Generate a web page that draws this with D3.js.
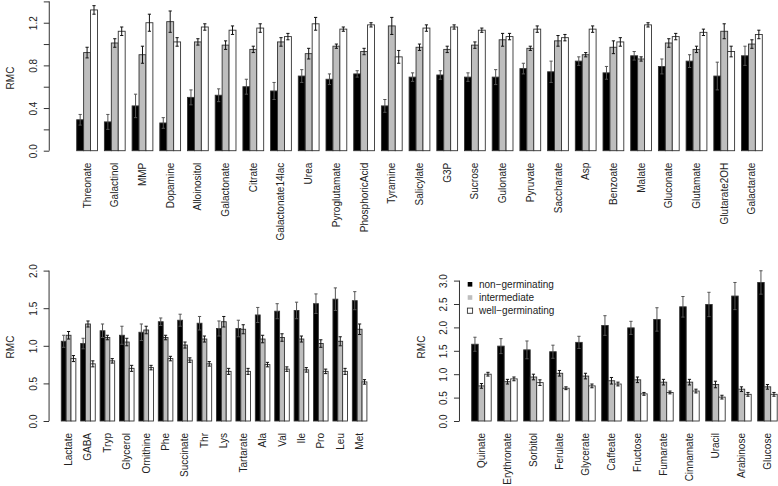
<!DOCTYPE html>
<html>
<head>
<meta charset="utf-8">
<script src="https://cdn.jsdelivr.net/npm/d3@7"></script>
<style>
  html, body { margin: 0; padding: 0; background: #fff; }
  svg { display: block; }
  text { font-family: "Liberation Sans", Arial, Helvetica, sans-serif; font-size: 10px; fill: #222; }
</style>
</head>
<body>
<svg id="chart" width="778" height="486"></svg>
<script>
// ---------- DATA ----------
const seriesNames = ["non\u2212germinating", "intermediate", "well\u2212germinating"];

const topCats = ["Threonate","Galactinol","MMP","Dopamine","Alloinositol","Galactonate","Citrate","Galactonate14lac","Urea","Pyroglutamate","PhosphoricAcid","Tyramine","Salicylate","G3P","Sucrose","Gulonate","Pyruvate","Saccharate","Asp","Benzoate","Malate","Gluconate","Glutamate","Glutarate2OH","Galactarate"];
const topNon      = [0.29,0.27,0.42,0.26,0.50,0.52,0.60,0.56,0.70,0.67,0.72,0.42,0.69,0.71,0.69,0.69,0.77,0.74,0.84,0.73,0.89,0.79,0.84,0.70,0.89];
const topNonErr   = [0.05,0.07,0.11,0.05,0.07,0.06,0.07,0.08,0.06,0.05,0.03,0.06,0.04,0.04,0.04,0.07,0.05,0.10,0.04,0.06,0.04,0.07,0.06,0.13,0.09];
const topInter    = [0.92,1.01,0.90,1.21,1.02,0.99,0.95,1.02,0.91,0.98,0.93,1.17,0.97,0.95,0.99,1.04,0.96,1.03,0.90,0.97,0.86,1.01,0.95,1.12,1.00];
const topInterErr = [0.05,0.04,0.08,0.10,0.03,0.04,0.03,0.04,0.05,0.02,0.03,0.08,0.03,0.03,0.03,0.06,0.02,0.05,0.02,0.06,0.02,0.04,0.03,0.07,0.04];
const topWell     = [1.32,1.12,1.20,1.02,1.16,1.13,1.15,1.07,1.19,1.14,1.18,0.88,1.15,1.16,1.13,1.07,1.14,1.06,1.14,1.02,1.18,1.07,1.11,0.93,1.09];
const topWellErr  = [0.04,0.04,0.08,0.04,0.03,0.04,0.04,0.03,0.06,0.02,0.02,0.06,0.03,0.02,0.02,0.03,0.03,0.03,0.03,0.04,0.02,0.03,0.03,0.05,0.04];
const topTicks = [0.0,0.2,0.4,0.6,0.8,1.0,1.2,1.4];
const topTickLabels = ["0.0","","0.4","","0.8","","1.2",""];

const blCats = ["Lactate","GABA","Tryp","Glycerol","Ornithine","Phe","Succinate","Thr","Lys","Tartarate","Ala","Val","Ile","Pro","Leu","Met"];
const blNon      = [1.06,1.03,1.20,1.14,1.18,1.32,1.34,1.30,1.23,1.23,1.41,1.46,1.47,1.56,1.62,1.60];
const blNonErr   = [0.08,0.07,0.09,0.12,0.11,0.05,0.08,0.09,0.10,0.11,0.10,0.10,0.11,0.13,0.15,0.12];
const blInter    = [1.14,1.29,1.11,1.05,1.21,1.11,1.01,1.09,1.32,1.22,1.09,1.11,1.09,1.03,1.06,1.22];
const blInterErr = [0.05,0.04,0.03,0.05,0.05,0.03,0.04,0.04,0.07,0.06,0.05,0.05,0.04,0.05,0.06,0.07];
const blWell     = [0.83,0.76,0.80,0.70,0.71,0.83,0.81,0.76,0.66,0.66,0.75,0.69,0.68,0.66,0.66,0.52];
const blWellErr  = [0.04,0.04,0.03,0.04,0.03,0.03,0.03,0.03,0.04,0.04,0.03,0.03,0.03,0.03,0.04,0.03];
const blTicks = [0.0,0.5,1.0,1.5,2.0];
const blTickLabels = ["0.0","0.5","1.0","1.5","2.0"];

const brCats = ["Quinate","Erythronate","Sorbitol","Ferulate","Glycerate","Caffeate","Fructose","Fumarate","Cinnamate","Uracil","Arabinose","Glucose"];
const brNon      = [1.64,1.60,1.52,1.48,1.68,2.04,1.99,2.17,2.44,2.49,2.67,2.96];
const brNonErr   = [0.15,0.16,0.19,0.14,0.13,0.21,0.14,0.25,0.22,0.26,0.29,0.25];
const brInter    = [0.75,0.84,0.94,1.02,0.96,0.86,0.88,0.83,0.83,0.78,0.68,0.73];
const brInterErr = [0.05,0.05,0.06,0.06,0.06,0.07,0.06,0.06,0.06,0.07,0.05,0.05];
const brWell     = [1.00,0.90,0.82,0.70,0.75,0.79,0.58,0.61,0.64,0.51,0.57,0.57];
const brWellErr  = [0.04,0.04,0.06,0.03,0.04,0.04,0.03,0.03,0.04,0.04,0.04,0.04];
const brTicks = [0.0,0.5,1.0,1.5,2.0,2.5,3.0];
const brTickLabels = ["0.0","0.5","1.0","1.5","2.0","2.5","3.0"];

// ---------- STYLE ----------
const fills = ["#000000", "#bebebe", "#ffffff"];
const barStroke = "#333";
const errColors = ["#555", "#111", "#111"];

const svg = d3.select("#chart");

function drawPanel(cfg) {
  const n = cfg.cats.length;
  const maxUnit = n * 4;                 // R barplot units: each group = 3 bars + 1 space
  const x = d3.scaleLinear().domain([1, maxUnit]).range(cfg.xRange);
  const y = d3.scaleLinear().domain(cfg.yDomain).range(cfg.yRange);
  const axisX = x(1 - 0.04 * (maxUnit - 1));
  const g = svg.append("g");

  const series = [cfg.non, cfg.inter, cfg.well];
  const errs = [cfg.nonErr, cfg.interErr, cfg.wellErr];

  const bars = [];
  cfg.cats.forEach((c, i) => {
    for (let j = 0; j < 3; j++) {
      bars.push({ i, j, v: series[j][i], e: errs[j][i], u0: 1 + 4 * i + j });
    }
  });

  g.selectAll("rect.bar").data(bars).enter().append("rect")
    .attr("class", "bar")
    .attr("x", d => x(d.u0))
    .attr("width", d => x(d.u0 + 1) - x(d.u0))
    .attr("y", d => y(d.v))
    .attr("height", d => y(0) - y(d.v))
    .attr("fill", d => fills[d.j])
    .attr("stroke", barStroke)
    .attr("stroke-width", 0.9);

  // error bars
  const eg = g.selectAll("g.err").data(bars).enter().append("g")
    .attr("stroke", d => errColors[d.j]).attr("stroke-width", 1);
  const cx = d => x(d.u0 + 0.5);
  eg.append("line").attr("x1", cx).attr("x2", cx)
    .attr("y1", d => y(d.v - d.e)).attr("y2", d => y(d.v + d.e));
  eg.append("line").attr("x1", d => cx(d) - 1.6).attr("x2", d => cx(d) + 1.6)
    .attr("y1", d => y(d.v + d.e)).attr("y2", d => y(d.v + d.e));
  eg.append("line").attr("x1", d => cx(d) - 1.6).attr("x2", d => cx(d) + 1.6)
    .attr("y1", d => y(d.v - d.e)).attr("y2", d => y(d.v - d.e));

  // y axis
  const ax = g.append("g").attr("transform", `translate(${axisX},0)`);
  const yAxis = d3.axisLeft(y).tickValues(cfg.ticks).tickSize(5.5).tickPadding(0)
    .tickFormat((d, k) => cfg.tickLabels[k]);
  ax.call(yAxis);
  ax.select(".domain").attr("stroke", "#333").attr("d", `M0,${y(cfg.ticks[0])}V${y(cfg.ticks[cfg.ticks.length - 1])}`);
  ax.selectAll(".tick line").attr("stroke", "#333");
  ax.selectAll(".tick text")
    .attr("x", 0).attr("y", 0).attr("dy", null)
    .attr("text-anchor", "middle")
    .attr("dominant-baseline", "central")
    .attr("font-family", null).attr("font-size", null)
    .attr("fill", "#222")
    .attr("transform", `translate(-16,0) rotate(-90)`);

  // y title
  g.append("text")
    .attr("transform", `translate(${cfg.titleX},${cfg.titleY}) rotate(-90)`)
    .attr("text-anchor", "middle").attr("dominant-baseline", "central")
    .text("RMC");

  // category labels
  g.selectAll("text.cat").data(cfg.cats).enter().append("text")
    .attr("class", "cat")
    .attr("transform", (d, i) => `translate(${x(1 + 4 * i + 1.5)},${y(0) + 12}) rotate(-90)`)
    .attr("text-anchor", "end").attr("dominant-baseline", "central")
    .text(d => d);

  return { x, y, g };
}

drawPanel({
  cats: topCats, non: topNon, nonErr: topNonErr, inter: topInter, interErr: topInterErr,
  well: topWell, wellErr: topWellErr, ticks: topTicks, tickLabels: topTickLabels,
  xRange: [76.7, 762.3], yDomain: [0, 1.4], yRange: [150.7, 1.4], titleX: 10, titleY: 78
});

drawPanel({
  cats: blCats, non: blNon, nonErr: blNonErr, inter: blInter, interErr: blInterErr,
  well: blWell, wellErr: blWellErr, ticks: blTicks, tickLabels: blTickLabels,
  xRange: [61.3, 366.9], yDomain: [0, 2], yRange: [421, 270.6], titleX: 10, titleY: 347
});

drawPanel({
  cats: brCats, non: brNon, nonErr: brNonErr, inter: brInter, interErr: brInterErr,
  well: brWell, wellErr: brWellErr, ticks: brTicks, tickLabels: brTickLabels,
  xRange: [471.7, 777.2], yDomain: [0, 3], yRange: [421, 280.6], titleX: 421.5, titleY: 347
});

// legend (bottom-right panel)
const legend = svg.append("g").attr("transform", "translate(470,284.3)");
seriesNames.forEach((name, k) => {
  const row = legend.append("g").attr("transform", `translate(0,${k * 13.2})`);
  if (k < 2) {
    row.append("rect").attr("x", -2.3).attr("y", -2.3).attr("width", 4.6).attr("height", 4.6)
      .attr("fill", fills[k]);
  } else {
    row.append("rect").attr("x", -2.6).attr("y", -2.6).attr("width", 5.2).attr("height", 5.2)
      .attr("fill", "#fff").attr("stroke", "#333").attr("stroke-width", 0.9);
  }
  row.append("text").attr("x", 9).attr("y", 0).attr("dominant-baseline", "central").text(name);
});
</script>
</body>
</html>
